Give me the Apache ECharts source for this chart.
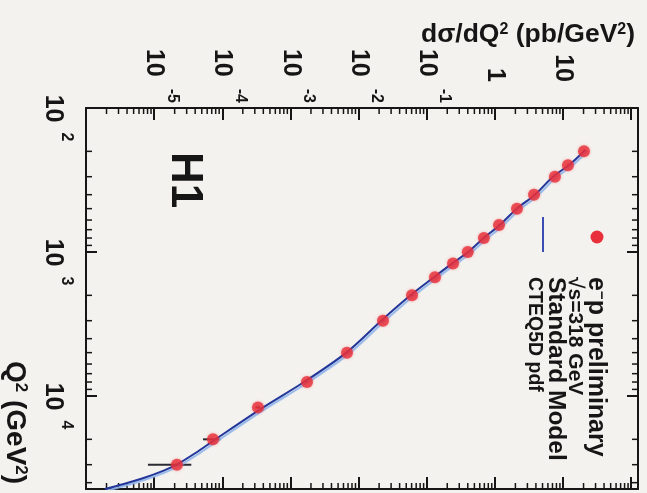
<!DOCTYPE html>
<html><head><meta charset="utf-8">
<script src="https://cdn.jsdelivr.net/npm/echarts@6/dist/echarts.min.js"></script>
<style>html,body{margin:0;padding:0;background:#f4f2ee}#c{width:647px;height:493px}</style>
</head><body><div id="c"></div>
<script>
// ---- data ----
const q2Values   = [200, 250, 300, 400, 500, 650, 800, 1000, 1200, 1500, 2000, 3000, 5000, 8000, 12000, 20000, 30000];
const xsecValues = [20.3, 11.8, 7.6, 3.75, 2.11, 1.15, 0.69, 0.40, 0.243, 0.132, 0.0608, 0.0228, 0.00676, 0.00175, 3.34e-4, 7.31e-5, 2.16e-5];
const xsecErrors = [0.4, 0.25, 0.15, 0.08, 0.05, 0.025, 0.015, 0.009, 0.006, 0.004, 0.002, 0.0008, 0.0003, 0.0001, 2.5e-5, 2.1e-5, 1.35e-5];
const smQ2   = [195, 200, 250, 300, 400, 500, 650, 800, 1000, 1200, 1500, 2000, 3000, 5000, 8000, 12000, 20000, 25000, 30000, 33000, 37000, 41000, 44260];
const smXsec = [21.5, 20.3, 12.1, 7.11, 3.87, 2.09, 1.18, 0.684, 0.405, 0.237, 0.127, 0.0578, 0.0215, 0.00661, 1.585e-3, 3.98e-4, 7.94e-5, 3.98e-5, 2.14e-5, 1.38e-5, 7.18e-6, 3.48e-6, 1.89e-6];
const xsecTickExps = [-5, -4, -3, -2, -1, 0, 1];   // labelled dσ/dQ² ticks
const q2TickExps   = [2, 3, 4];                     // labelled Q² ticks
const xsecRange = [1e-6, Math.pow(10, 2.1)];
const q2Range   = [100, 44260];

const FONT = "'Liberation Sans', Arial, Helvetica, sans-serif";
const INK = '#161616';

function powLabel(v, allowed) {
  const e = Math.log10(v), k = Math.round(e);
  if (Math.abs(e - k) > 1e-6 || allowed.indexOf(k) < 0) return '';
  if (k === 0) return '{c|1}';
  if (k === 1) return '{c|10}';
  return '{b|10}{s|' + k + '}';
}
function makeRich(raise, padLeft, gap) {
  return {
    b: { fontSize: 25, lineHeight: 25, fontWeight: 'bold', fontFamily: FONT, color: INK, padding: [0, 0, 0, padLeft] },
    c: { fontSize: 25, lineHeight: 25, fontWeight: 'bold', fontFamily: FONT, color: INK, padding: [0, 21, 0, padLeft] },
    s: { fontSize: 16, lineHeight: 16, fontWeight: 'bold', fontFamily: FONT, color: INK, padding: [0, 0, raise * 2, gap] }
  };
}

// minor log ticks
const xMinor = [], yMinor = [];
for (let k = -6; k <= 2; k++) for (let m = 2; m <= 9; m++) {
  const v = m * Math.pow(10, k);
  if (v > xsecRange[0] && v < xsecRange[1]) xMinor.push([v, 1000]);
}
for (let k = 2; k <= 4; k++) for (let m = 2; m <= 9; m++) {
  const v = m * Math.pow(10, k);
  if (v > q2Range[0] && v < q2Range[1]) yMinor.push([1, v]);
}

const points = q2Values.map((q, i) => [xsecValues[i], q]);
const smLine = smQ2.map((q, i) => [smXsec[i], q]);
const errData = q2Values.map((q, i) => [xsecValues[i], q, xsecValues[i] - xsecErrors[i], xsecValues[i] + xsecErrors[i]]);

const axisLineStyle = { color: INK, width: 2 };
const supRich = (fa, fs) => ({
  a: { fontSize: fa, fontWeight: 'bold', fontFamily: FONT, fill: INK, color: INK },
  s: { fontSize: fs, fontWeight: 'bold', fontFamily: FONT, fill: INK, color: INK, verticalAlign: 'top', lineHeight: fs }
});
const chart = echarts.init(document.getElementById('c'), null, { renderer: 'canvas' });
chart.setOption({
  backgroundColor: '#f4f2ee',
  animation: false,
  grid: { left: 86, top: 108, right: 9, bottom: 4, containLabel: false, outerBoundsMode: 'none' },
  xAxis: [
    { type: 'log', logBase: 10, position: 'top', min: xsecRange[0], max: xsecRange[1],
      axisLine: { lineStyle: axisLineStyle }, splitLine: { show: false },
      axisTick: { inside: true, length: 12, lineStyle: { color: INK, width: 2 } },
      axisLabel: { rotate: 90, margin: 5, formatter: v => powLabel(v, xsecTickExps), rich: makeRich(18, 0, 12) } },
    { type: 'log', logBase: 10, position: 'bottom', min: xsecRange[0], max: xsecRange[1],
      axisLine: { lineStyle: axisLineStyle }, splitLine: { show: false },
      axisTick: { inside: true, length: 12, lineStyle: { color: INK, width: 2 } },
      axisLabel: { show: false } }
  ],
  yAxis: [
    { type: 'log', logBase: 10, inverse: true, position: 'left', min: q2Range[0], max: q2Range[1],
      axisLine: { lineStyle: axisLineStyle }, splitLine: { show: false },
      axisTick: { inside: true, length: 11, lineStyle: { color: INK, width: 2 } },
      axisLabel: { rotate: -90, margin: 21, formatter: v => powLabel(v, q2TickExps), rich: makeRich(14, 20, 10) } },
    { type: 'log', logBase: 10, inverse: true, position: 'right', min: q2Range[0], max: q2Range[1],
      axisLine: { lineStyle: axisLineStyle }, splitLine: { show: false },
      axisTick: { inside: true, length: 11, lineStyle: { color: INK, width: 2 } },
      axisLabel: { show: false } }
  ],
  series: [
    { type: 'custom', name: 'xminor', data: xMinor, z: 1, silent: true,
      renderItem: (params, api) => {
        const cs = params.coordSys; const x = api.coord([api.value(0), 1000])[0];
        const st = { stroke: INK, lineWidth: 1.5 };
        return { type: 'group', children: [
          { type: 'line', shape: { x1: x, y1: cs.y, x2: x, y2: cs.y + 6 }, style: st },
          { type: 'line', shape: { x1: x, y1: cs.y + cs.height, x2: x, y2: cs.y + cs.height - 6 }, style: st } ] };
      } },
    { type: 'custom', name: 'yminor', data: yMinor, z: 1, silent: true,
      renderItem: (params, api) => {
        const cs = params.coordSys; const y = api.coord([1, api.value(1)])[1];
        const st = { stroke: INK, lineWidth: 1.5 };
        return { type: 'group', children: [
          { type: 'line', shape: { x1: cs.x, y1: y, x2: cs.x + 6, y2: y }, style: st },
          { type: 'line', shape: { x1: cs.x + cs.width, y1: y, x2: cs.x + cs.width - 6, y2: y }, style: st } ] };
      } },
    { type: 'custom', name: 'errors', data: errData, z: 2, silent: true, encode: { x: 0, y: 1 },
      renderItem: (params, api) => {
        const p1 = api.coord([api.value(2), api.value(1)]);
        const p2 = api.coord([api.value(3), api.value(1)]);
        return { type: 'line', shape: { x1: p1[0], y1: p1[1], x2: p2[0], y2: p2[1] },
                 style: { stroke: '#2b2b33', lineWidth: 2 } };
      } },
    { type: 'line', name: 'Standard Model', data: smLine, smooth: 0.3, showSymbol: false, z: 3,
      lineStyle: { color: '#23379a', width: 2, shadowColor: '#8fb3ea', shadowOffsetX: 2, shadowOffsetY: 1.5, shadowBlur: 1 } },
    { type: 'scatter', name: 'data', data: points, symbol: 'circle', symbolSize: 12, z: 4,
      itemStyle: { color: '#e8303a', shadowColor: 'rgba(232,48,58,0.45)', shadowBlur: 3 } }
  ],
  graphic: [
    { type: 'text', x: 421, y: 35, style: { text: '{a|dσ/dQ}{s|2}{a| (pb/GeV}{s|2}{a|)}', align: 'left', verticalAlign: 'middle', rich: supRich(26.5, 16) } },
    { type: 'text', x: 15, y: 361, rotation: -Math.PI / 2, style: { text: '{a|Q}{s|2}{a| (GeV}{s|2}{a|)}', align: 'left', verticalAlign: 'middle', rich: supRich(28, 17) } },
    { type: 'text', x: 184, y: 152, rotation: -Math.PI / 2, style: { text: 'H1', align: 'left', verticalAlign: 'middle',
      font: 'bold 44px ' + FONT, fill: INK } },
    { type: 'circle', shape: { cx: 597, cy: 237, r: 6.5 }, style: { fill: '#e8303a' } },
    { type: 'line', shape: { x1: 543, y1: 217, x2: 543, y2: 252 }, style: { stroke: '#3a4db5', lineWidth: 2 } },
    { type: 'text', x: 596, y: 277, rotation: -Math.PI / 2, style: { text: '{a|e}{s|−}{a|p preliminary}', align: 'left', verticalAlign: 'middle', rich: supRich(25, 15) } },
    { type: 'text', x: 575, y: 277, rotation: -Math.PI / 2, style: { text: '√s=318 GeV', align: 'left', verticalAlign: 'middle',
      font: 'bold 21px ' + FONT, fill: INK } },
    { type: 'text', x: 556, y: 277, rotation: -Math.PI / 2, style: { text: 'Standard Model', align: 'left', verticalAlign: 'middle',
      font: 'bold 24.5px ' + FONT, fill: INK } },
    { type: 'text', x: 534, y: 277, rotation: -Math.PI / 2, style: { text: 'CTEQ5D pdf', align: 'left', verticalAlign: 'middle',
      font: 'bold 19.5px ' + FONT, fill: INK } }
  ]
});
</script></body></html>
